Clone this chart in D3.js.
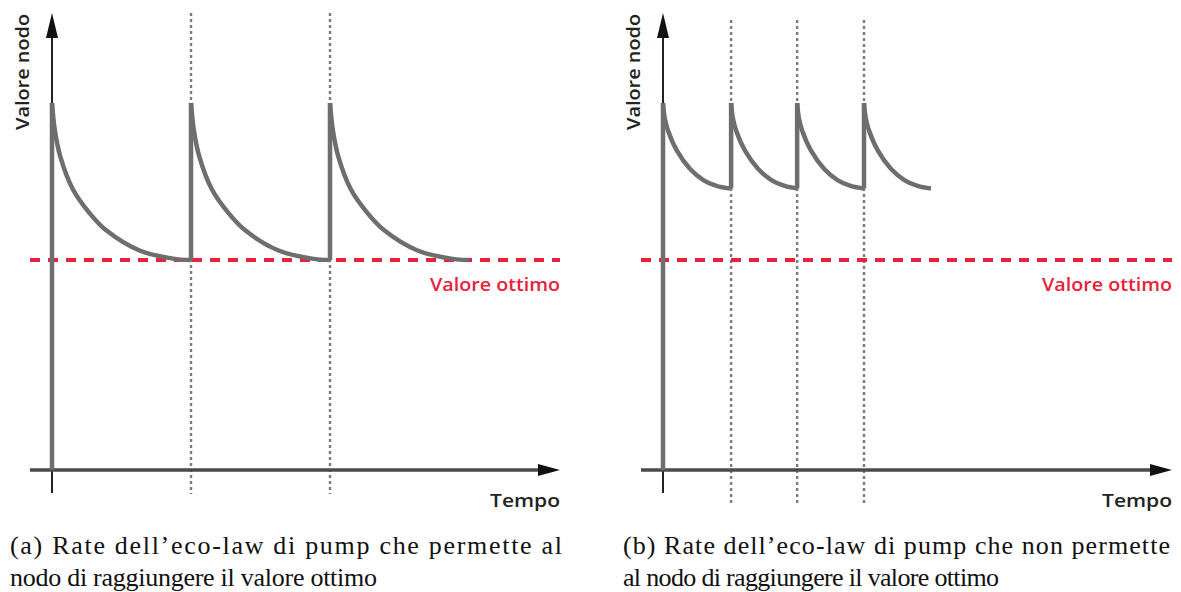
<!DOCTYPE html>
<html>
<head>
<meta charset="utf-8">
<script src="https://cdn.jsdelivr.net/npm/d3@7"></script>
<style>
  html, body { margin: 0; padding: 0; background: #fff; }
  svg { display: block; }
</style>
</head>
<body>
<svg id="chart" width="1181" height="592"></svg>
<script>
// ---------------- DATA ----------------
// Panel (a): three pumps, each decay reaches the optimum value
const leftPumpTimes = [0, 1, 2];
const leftCycleOffsets = [0, 0.02, 0.06, 0.15, 0.27, 0.39, 0.63, 0.87, 1.0];
const leftCycleValues  = [10, 9.27, 8.54, 7.65, 7.0, 6.53, 5.98, 5.76, 5.72];

// Panel (b): four faster pumps, the value never drops to the optimum
const rightPumpTimes = [0, 0.49, 0.965, 1.446];
const rightCycleOffsets = [0, 0.012, 0.036, 0.10, 0.195, 0.29, 0.385, 0.482];
const rightCycleValues  = [10, 9.6, 9.25, 8.7, 8.2, 7.9, 7.74, 7.67];

const optimumValue = 5.72;
const peakValue = 10;

const yLabel = "Valore nodo";
const xLabel = "Tempo";
const optimumLabel = "Valore ottimo";
const captionA = ["(a) Rate dell\u2019eco-law di pump che permette al", "nodo di raggiungere il valore ottimo"];
const captionB = ["(b) Rate dell\u2019eco-law di pump che non permette", "al nodo di raggiungere il valore ottimo"];

// ---------------- DRAWING ----------------
const svg = d3.select("#chart");

const grey = "#6e6e6e";
const red = "#e8213c";

function panel(opt) {
  const g = svg.append("g");
  const x = d3.scaleLinear().domain([0, 1]).range([opt.x0, opt.x0 + 139]);
  const y = d3.scaleLinear().domain([0, peakValue]).range([470, 103]);

  // dotted vertical pump markers (except at t=0)
  opt.pumps.slice(1).forEach((t) => {
    g.append("line")
      .attr("x1", x(t)).attr("x2", x(t))
      .attr("y1", opt.dotTop).attr("y2", opt.dotBottom)
      .attr("stroke", "#7c7c7c").attr("stroke-width", 2.4)
      .attr("stroke-dasharray", "3,3");
  });

  // red optimum line
  g.append("line")
    .attr("x1", opt.axisLeft).attr("x2", opt.axisRight)
    .attr("y1", y(optimumValue)).attr("y2", y(optimumValue))
    .attr("stroke", red).attr("stroke-width", 4)
    .attr("stroke-dasharray", "10,8");

  // y axis (thin black) with arrow
  g.append("line")
    .attr("x1", x(0)).attr("x2", x(0))
    .attr("y1", 493).attr("y2", 34)
    .attr("stroke", "#222").attr("stroke-width", 2);
  g.append("path")
    .attr("d", `M${x(0)},13 L${x(0) - 6},38 L${x(0) + 6},38 Z`)
    .attr("fill", "#111");

  // x axis with arrow
  g.append("line")
    .attr("x1", opt.axisLeft).attr("x2", opt.axisRight - 16)
    .attr("y1", 470).attr("y2", 470)
    .attr("stroke", "#4a4a4a").attr("stroke-width", 3.5);
  g.append("path")
    .attr("d", `M${opt.axisRight},470 L${opt.axisRight - 22},464 L${opt.axisRight - 22},476 Z`)
    .attr("fill", "#111");

  // series: vertical jumps + decay curves
  const line = d3.line().x(d => x(d[0])).y(d => y(d[1])).curve(d3.curveCatmullRom.alpha(0.5));
  opt.pumps.forEach((t, i) => {
    const low = i === 0 ? 0 : opt.values[opt.values.length - 1];
    g.append("line")
      .attr("x1", x(t)).attr("x2", x(t))
      .attr("y1", y(low)).attr("y2", y(opt.values[0]))
      .attr("stroke", grey).attr("stroke-width", 4.5)
      .attr("stroke-linecap", "butt");
    const pts = opt.offsets.map((o, k) => [t + o, opt.values[k]]);
    g.append("path")
      .attr("d", line(pts))
      .attr("fill", "none")
      .attr("stroke", grey).attr("stroke-width", 4.5);
  });

  // labels
  g.append("text")
    .attr("transform", `translate(${opt.x0 - 23},14) rotate(-90)`)
    .attr("text-anchor", "end")
    .attr("font-family", "'Open Sans', sans-serif")
    .attr("font-weight", 600)
    .attr("font-size", 18)
    .attr("fill", "#222")
    .attr("textLength", 116).attr("lengthAdjust", "spacingAndGlyphs")
    .text(yLabel);

  g.append("text")
    .attr("x", opt.axisRight).attr("y", 291)
    .attr("text-anchor", "end")
    .attr("font-family", "'Open Sans', sans-serif")
    .attr("font-weight", 600)
    .attr("font-size", 18)
    .attr("fill", red)
    .attr("textLength", 130).attr("lengthAdjust", "spacingAndGlyphs")
    .text(optimumLabel);

  g.append("text")
    .attr("x", opt.axisRight).attr("y", 507)
    .attr("text-anchor", "end")
    .attr("font-family", "'Open Sans', sans-serif")
    .attr("font-weight", 600)
    .attr("font-size", 18)
    .attr("fill", "#222")
    .attr("textLength", 70).attr("lengthAdjust", "spacingAndGlyphs")
    .text(xLabel);

  // caption
  opt.caption.forEach((c, i) => {
    g.append("text")
      .attr("x", opt.capX).attr("y", 554 + i * 32)
      .attr("font-family", "'Liberation Serif', 'Times New Roman', serif")
      .attr("font-size", 26)
      .attr("fill", "#111")
      .attr("textLength", opt.capW[i]).attr("lengthAdjust", "spacing")
      .text(c);
  });
}

panel({
  x0: 52, axisLeft: 30, axisRight: 560,
  pumps: leftPumpTimes, offsets: leftCycleOffsets, values: leftCycleValues,
  dotTop: 13, dotBottom: 494,
  caption: captionA, capX: 10, capW: [552, 367]
});

panel({
  x0: 663, axisLeft: 641, axisRight: 1172,
  pumps: rightPumpTimes, offsets: rightCycleOffsets, values: rightCycleValues,
  dotTop: 20, dotBottom: 503,
  caption: captionB, capX: 623, capW: [547, 376]
});
</script>
</body>
</html>
